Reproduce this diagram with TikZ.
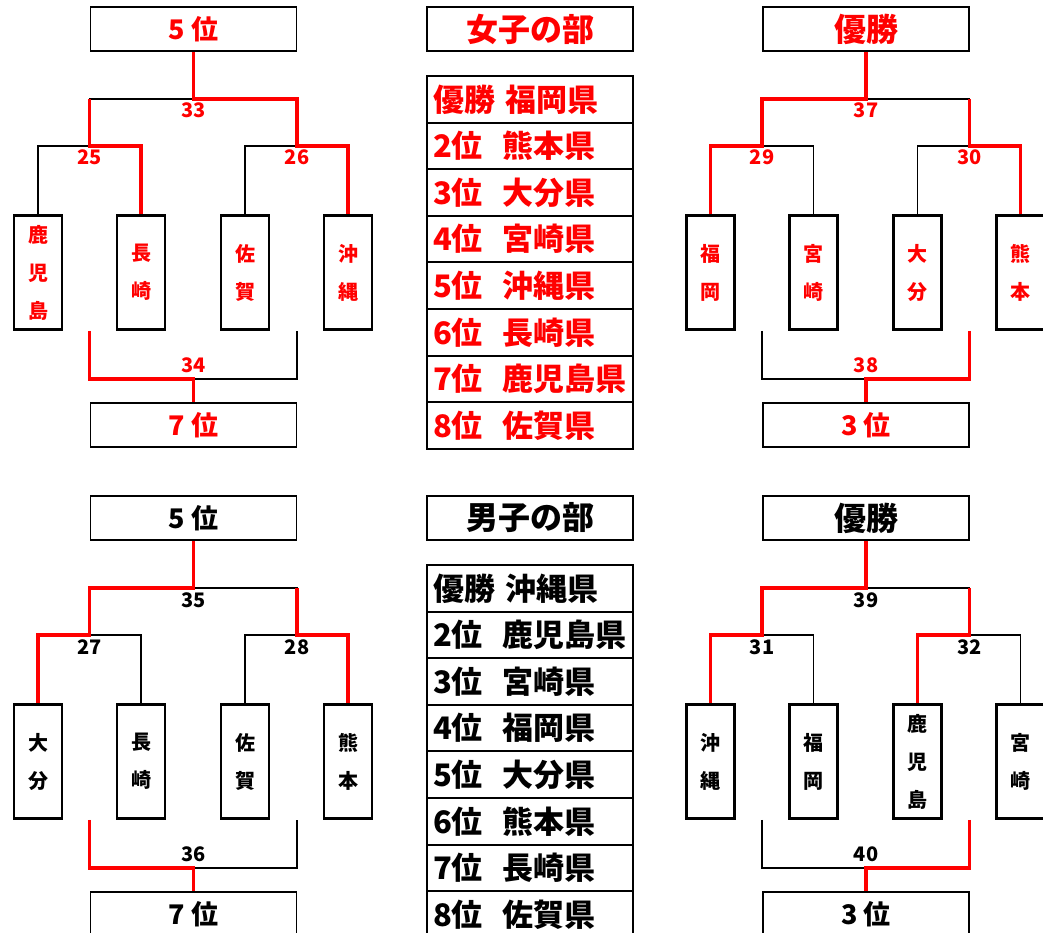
\documentclass[tikz,border=0pt]{standalone}
\usepackage{fontspec}
\setmainfont{Noto Sans CJK JP}
\usetikzlibrary{positioning}

\tikzset{
  teambox/.style={draw, line width=2.8pt, minimum width=48pt, minimum height=114pt,
    inner sep=0pt, align=center, font=\fontsize{20}{38}\selectfont\bfseries},
  resultbox/.style={draw, line width=1.7pt, minimum width=206pt, minimum height=44pt,
    inner sep=0pt, font=\fontsize{27}{30}\selectfont\bfseries},
  heading/.style={resultbox, font=\fontsize{32}{34}\selectfont\bfseries},
  rankrow/.style={draw, line width=2pt, outer sep=0pt, minimum width=206pt,
    minimum height=46.6pt, inner xsep=6pt, inner ysep=0pt, text width=194pt,
    align=left, font=\fontsize{31}{33}\selectfont\bfseries},
  gamenum/.style={inner sep=0pt, font=\fontsize{20}{22}\selectfont\bfseries},
  bracket/.style={line width=1.3pt},
  winline/.style={red, line width=3.3pt},
}

\begin{document}
\begin{tikzpicture}[x=1pt, y=-1pt]
  \useasboundingbox (0,0) rectangle (1043,933);
  \clip (0,0) rectangle (1043,933);

  % result boxes
  \node[resultbox, text=red] (wl-top) at (193.5,29) {5\hspace{6pt}位};
  \node[resultbox, text=red] (wl-bot) at (193.5,425) {7\hspace{6pt}位};
  \node[resultbox, text=red, heading] (wr-top) at (866,29) {優勝};
  \node[resultbox, text=red] (wr-bot) at (866,425) {3\hspace{6pt}位};
  \node[resultbox] (ml-top) at (193.5,518) {5\hspace{6pt}位};
  \node[resultbox] (ml-bot) at (193.5,914) {7\hspace{6pt}位};
  \node[resultbox, heading] (mr-top) at (866,518) {優勝};
  \node[resultbox] (mr-bot) at (866,914) {3\hspace{6pt}位};

  % teams
  \foreach \n/\x/\y/\col/\txt in {
      wl-1/38/272.5/red/{鹿\\児\\島}, wl-2/141/272.5/red/{長\\崎},
      wl-3/245/272.5/red/{佐\\賀}, wl-4/348/272.5/red/{沖\\縄},
      wr-1/710.5/272.5/red/{福\\岡}, wr-2/813.5/272.5/red/{宮\\崎},
      wr-3/917.5/272.5/red/{大\\分}, wr-4/1020.5/272.5/red/{熊\\本},
      ml-1/38/761.5/black/{大\\分}, ml-2/141/761.5/black/{長\\崎},
      ml-3/245/761.5/black/{佐\\賀}, ml-4/348/761.5/black/{熊\\本},
      mr-1/710.5/761.5/black/{沖\\縄}, mr-2/813.5/761.5/black/{福\\岡},
      mr-3/917.5/761.5/black/{鹿\\児\\島}, mr-4/1020.5/761.5/black/{宮\\崎}}
    \node[teambox, text=\col] (\n) at (\x,\y) {\txt};

  % brackets
  \foreach \q/\dx/\dy/\col/\ga/\gb/\gf/\gc in {
      wl/0/0/red/25/26/33/34, wr/672.5/0/red/29/30/37/38,
      ml/0/489/black/27/28/35/36, mr/672.5/489/black/31/32/39/40}
  {
    \coordinate (\q-a) at (89.5+\dx,146+\dy);
    \coordinate (\q-b) at (297+\dx,146+\dy);
    \coordinate (\q-f) at (193.5+\dx,99+\dy);
    \coordinate (\q-c) at (193.5+\dx,379+\dy);
    \draw[bracket] (\q-1.north) |- (\q-a) -| (\q-2.north);
    \draw[bracket] (\q-3.north) |- (\q-b) -| (\q-4.north);
    \draw[bracket] (\q-a) |- (\q-f) -| (\q-b);
    \draw[bracket] (\q-f) -- (\q-top.south);
    \draw[bracket] (\q-a |- \q-1.south) |- (\q-c) -| (\q-b |- \q-1.south);
    \draw[bracket] (\q-c) -- (\q-bot.north);
    \node[gamenum, text=\col, below=4pt of \q-a] (n\ga) {\ga};
    \node[gamenum, text=\col, below=4pt of \q-b] (n\gb) {\gb};
    \node[gamenum, text=\col, below=4pt of \q-f] (n\gf) {\gf};
    \node[gamenum, text=\col, above=6pt of \q-c] (n\gc) {\gc};
  }

  % winners
  \draw[winline] (wl-2.north) |- (wl-a) -- (wl-a |- wl-f);
  \draw[winline] (wl-4.north) |- (wl-b) |- (wl-f) -- (wl-top.south);
  \draw[winline] (wl-a |- wl-1.south) |- (wl-c) -- (wl-bot.north);
  \draw[winline] (wr-1.north) |- (wr-a) |- (wr-f) -- (wr-top.south);
  \draw[winline] (wr-4.north) |- (wr-b) -- (wr-b |- wr-f);
  \draw[winline] (wr-b |- wr-1.south) |- (wr-c) -- (wr-bot.north);
  \draw[winline] (ml-1.north) |- (ml-a) |- (ml-f) -- (ml-top.south);
  \draw[winline] (ml-4.north) |- (ml-b) -- (ml-b |- ml-f);
  \draw[winline] (ml-a |- ml-1.south) |- (ml-c) -- (ml-bot.north);
  \draw[winline] (mr-1.north) |- (mr-a) |- (mr-f) -- (mr-top.south);
  \draw[winline] (mr-3.north) |- (mr-b) -- (mr-b |- mr-f);
  \draw[winline] (mr-b |- mr-1.south) |- (mr-c) -- (mr-bot.north);

  % tables
  \node[heading, text=red] (w-head) at (530,29) {女子の部};
  \foreach \i/\txt in {1/{優勝\hspace{11pt}福岡県}, 2/{2位\hspace{20pt}熊本県},
      3/{3位\hspace{20pt}大分県}, 4/{4位\hspace{20pt}宮崎県},
      5/{5位\hspace{20pt}沖縄県}, 6/{6位\hspace{20pt}長崎県},
      7/{7位\hspace{20pt}鹿児島県}, 8/{8位\hspace{20pt}佐賀県}}
    \node[rankrow, text=red] (w-rank\i) at (530,{76+46.6*(\i-0.5)}) {\txt};
  \node[heading] (m-head) at (530,518) {男子の部};
  \foreach \i/\txt in {1/{優勝\hspace{11pt}沖縄県}, 2/{2位\hspace{20pt}鹿児島県},
      3/{3位\hspace{20pt}宮崎県}, 4/{4位\hspace{20pt}福岡県},
      5/{5位\hspace{20pt}大分県}, 6/{6位\hspace{20pt}熊本県},
      7/{7位\hspace{20pt}長崎県}, 8/{8位\hspace{20pt}佐賀県}}
    \node[rankrow] (m-rank\i) at (530,{565+46.6*(\i-0.5)}) {\txt};
\end{tikzpicture}
\end{document}
